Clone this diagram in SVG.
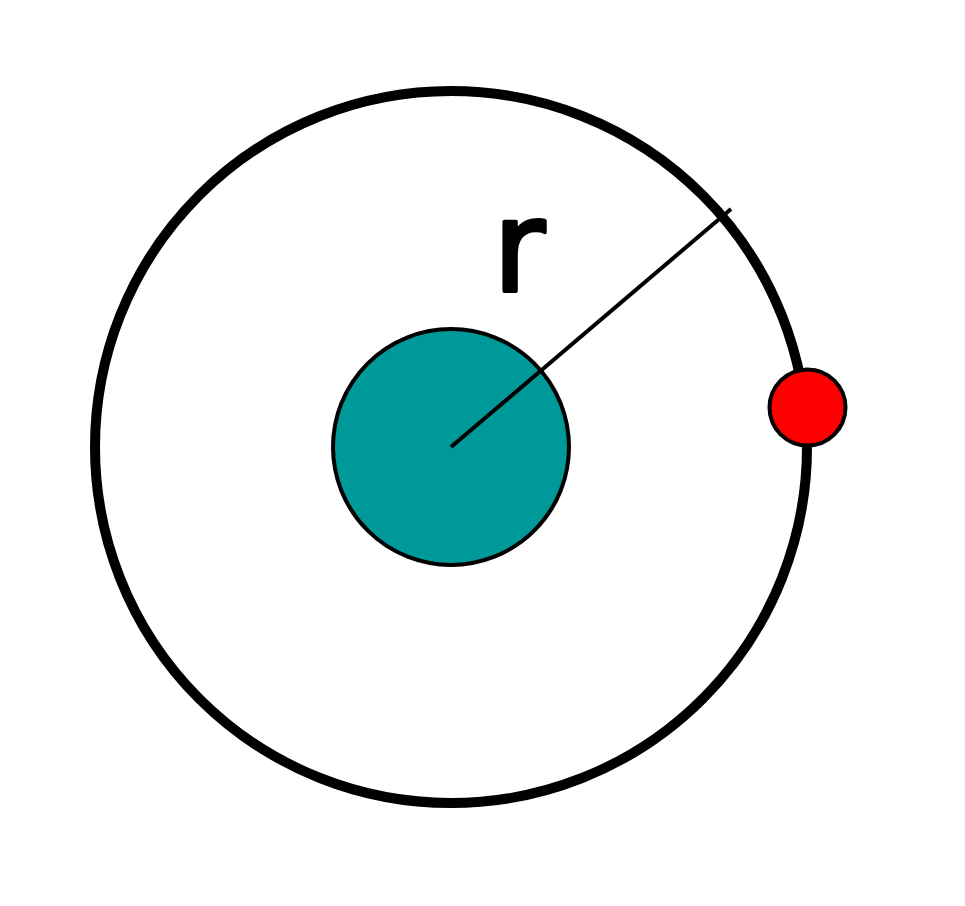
<svg xmlns="http://www.w3.org/2000/svg" width="965" height="906" viewBox="0 0 965 906">
<style>
.orbit{fill:none;stroke:#000;stroke-width:10}
.nucleus{fill:#009999;stroke:#000;stroke-width:4}
.electron{fill:#ff0000;stroke:#000;stroke-width:4}
.radius{stroke:#000;stroke-width:4;fill:none}
.lbl{font-family:"DejaVu Sans",sans-serif;font-size:126px;fill:#000;stroke:#000;stroke-width:4;stroke-linejoin:round;stroke-linecap:round}
</style>
<rect width="965" height="906" fill="#fff"/>
<g id="orbit"><circle class="orbit" cx="451" cy="447" r="356"/></g>
<g id="nucleus"><circle class="nucleus" cx="451" cy="447" r="118"/></g>
<g id="connectors"><line class="radius" x1="451" y1="447" x2="731" y2="209"/></g>
<g id="electron"><circle class="electron" cx="807.5" cy="407.5" r="38"/></g>
<g id="label"><text class="lbl" x="493" y="291">r</text></g>
</svg>
